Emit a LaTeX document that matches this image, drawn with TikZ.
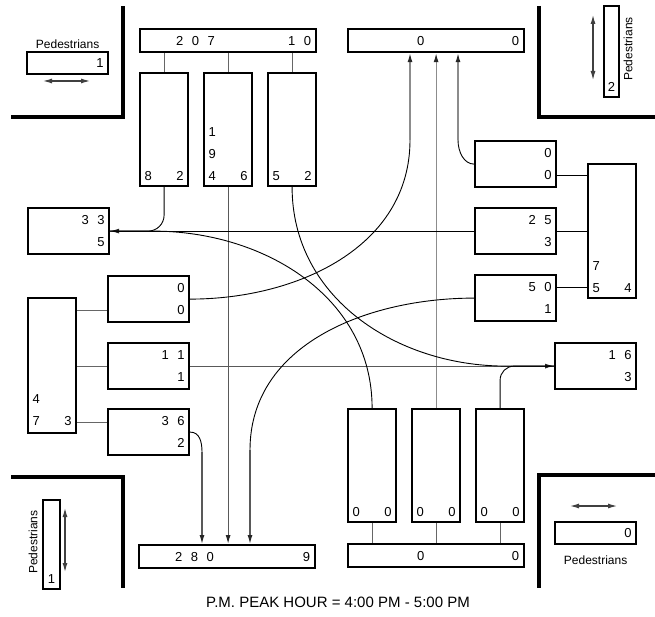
\documentclass[tikz,border=0pt]{standalone}
\usepackage{fontspec}
\setmainfont{Liberation Sans}
\usetikzlibrary{arrows.meta, positioning, calc}

\newcommand{\gp}{\hspace{8.5pt}}
\newcommand{\lanetext}[3]{\parbox[c][#1][b]{#2}{#3}}

\begin{document}
\begin{tikzpicture}[x=1pt, y=-1pt,
  box/.style={rectangle, draw, line width=2.2pt, inner sep=0pt, anchor=north west,
    font=\fontsize{13}{22}\selectfont},
  bar/.style={box, minimum width=176pt, minimum height=23pt, text width=166pt, align=left},
  move/.style={box, minimum width=81pt, minimum height=46pt, text width=72pt, align=right},
  lane/.style={box, minimum width=48pt, minimum height=113pt},
  pedbox/.style={box, minimum width=81pt, minimum height=22pt, text width=72pt, align=right},
  pedtxt/.style={font=\fontsize{12}{14}\selectfont, inner sep=2pt},
  wall/.style={line width=3.5pt},
  link/.style={line width=1pt, black!60},
  thru/.style={line width=1.2pt, black!65, -{Latex[length=9pt, width=5pt, color=black!85]}},
  turn/.style={line width=0.9pt},
  pedarr/.style={line width=1.1pt, black!75,
    {Latex[length=9pt, width=5pt]}-{Latex[length=9pt, width=5pt]}}
]
\useasboundingbox (0,0) rectangle (655,617);

% Corners
\draw[wall] (11,117) -- (123,117) -- (123,6);
\draw[wall] (539,6) -- (539,117) -- (655,117);
\draw[wall] (11,477) -- (123,477) -- (123,588);
\draw[wall] (655,475) -- (539,475) -- (539,588);

% North leg
\node[bar] (nApp) at (139,28) {\hspace*{31pt}2\gp0\gp7\hfill1\gp0};
\node[bar] (nExit) at (347,28) {\hspace*{64pt}0\hfill0};
\node[lane] (sbR) at (139,72) {\lanetext{102pt}{39pt}{8\hfill2}};
\node[lane] (sbT) at (203,72) {\lanetext{102pt}{39pt}{1\\9\\4\hfill6}};
\node[lane] (sbL) at (267,72) {\lanetext{102pt}{39pt}{5\hfill2}};

% South leg
\node[bar] (sExit) at (138,544) {\hspace*{31pt}2\gp8\gp0\hfill9};
\node[bar] (sApp) at (347,543) {\hspace*{64pt}0\hfill0};
\node[lane] (nbL) at (347,408) {\lanetext{102pt}{39pt}{0\hfill0}};
\node[lane] (nbT) at (411,408) {\lanetext{102pt}{39pt}{0\hfill0}};
\node[lane] (nbR) at (475,408) {\lanetext{102pt}{39pt}{0\hfill0}};

% West leg
\node[move] (wExit) at (27,207) {3\gp3\\5};
\node[lane, minimum height=135pt] (wApp) at (27,297) {\lanetext{120pt}{39pt}{4\\7\hfill3}};
\node[move] (ebL) at (107,275) {0\\0};
\node[move] (ebT) at (107,342) {1\gp1\\1};
\node[move] (ebR) at (107,408) {3\gp6\\2};

% East leg
\node[move] (eExit) at (554,342) {1\gp6\\3};
\node[lane, minimum height=134pt] (eApp) at (587,163) {\lanetext{123pt}{39pt}{7\\5\hfill4}};
\node[move] (wbR) at (474,140) {0\\0};
\node[move] (wbT) at (474,207) {2\gp5\\3};
\node[move] (wbL) at (474,274) {5\gp0\\1};

% Pedestrians
\node[pedbox] (pedNW) at (26,51) {1};
\node[pedtxt, above=0pt of pedNW] (pedNWt) {Pedestrians};
\node[pedbox] (pedSE) at (554,521) {0};
\node[pedtxt, below=8pt of pedSE] (pedSEt) {Pedestrians};
\node[box, minimum width=15pt, minimum height=91pt] (pedNE) at (603,5)
  {\lanetext{80pt}{9pt}{\centering 2}};
\node[pedtxt, rotate=90] (pedNEt) at (628,49) {Pedestrians};
\node[box, minimum width=17pt, minimum height=89pt] (pedSW) at (42,499)
  {\lanetext{78pt}{9pt}{\centering 1}};
\node[pedtxt, rotate=90] (pedSWt) at (33,542) {Pedestrians};

\coordinate (pNW1) at (43,81);
\coordinate (pNW2) at (90,81);
\coordinate (pNE1) at (593,15);
\coordinate (pNE2) at (593,80);
\coordinate (pSW1) at (65,508);
\coordinate (pSW2) at (65,572);
\coordinate (pSE1) at (570,506);
\coordinate (pSE2) at (617,506);
\draw[pedarr] (pNW1) -- (pNW2);
\draw[pedarr] (pNE1) -- (pNE2);
\draw[pedarr] (pSW1) -- (pSW2);
\draw[pedarr] (pSE1) -- (pSE2);

% Lane links
\draw[link] (sbR.north) -- (sbR.north |- nApp.south);
\draw[link] (sbT.north) -- (sbT.north |- nApp.south);
\draw[link] (sbL.north) -- (sbL.north |- nApp.south);
\draw[link] (nbL.south) -- (nbL.south |- sApp.north);
\draw[link] (nbT.south) -- (nbT.south |- sApp.north);
\draw[link] (nbR.south) -- (nbR.south |- sApp.north);
\coordinate (ebLk) at ($(ebL.west)+(0,11)$);
\coordinate (ebRk) at ($(ebR.west)+(0,-10)$);
\draw[link] (ebLk) -- (ebLk -| wApp.east);
\draw[link] (ebT.west) -- (ebT.west -| wApp.east);
\draw[link] (ebRk) -- (ebRk -| wApp.east);
\coordinate (wbRk) at ($(wbR.east)+(0,11)$);
\coordinate (wbLk) at ($(wbL.east)+(0,-11)$);
\draw[link, black] (wbRk) -- (wbRk -| eApp.west);
\draw[link, black] (wbT.east) -- (wbT.east -| eApp.west);
\draw[link, black] (wbLk) -- (wbLk -| eApp.west);

% Through movements
\draw[thru] (sbT.south) -- (sbT.south |- sExit.north);
\draw[thru, black!45] (nbT.north) -- (nbT.north |- nExit.south);
\draw[thru, black, line width=0.9pt] (wbT.west) -- (wExit.east);
\draw[thru] (ebT.east) -- (eExit.west);

% Right turns
\coordinate (wMerge) at ($(wExit.east)+(43,0)$);
\coordinate (eMerge) at ($(eExit.west)+(-48,0)$);
\draw[turn, rounded corners=16pt] (sbR.south) |- (wExit.east);
\draw[turn, rounded corners=14pt] (nbR.north) |- (eExit.west);
\coordinate (nA3) at (458,140);
\draw[turn] (wbR.west) .. controls +(-10,0) and +(0,12) .. (nA3);
\draw[thru, black!45] (nA3) -- (nA3 |- nExit.south);
\coordinate (sA3) at (202,452);
\draw[turn] (ebR.east) .. controls +(9,0) and +(0,-11) .. (sA3);
\draw[thru] (sA3) -- (sA3 |- sExit.north);

% Left turns
\draw[turn] (nbL.north) .. controls +(0,-111) and +(111,0) .. (wMerge) -- (wExit.east);
\draw[turn] (sbL.south) .. controls +(0,110) and +(-110,0) .. (eMerge) -- (eExit.west);
\coordinate (nA1) at (410,140);
\draw[turn] (ebL.east) .. controls +(107,0) and +(0,107) .. (nA1);
\draw[thru, black!45] (nA1) -- (nA1 |- nExit.south);
\coordinate (sA1) at (250,450);
\draw[turn] (wbL.west) .. controls +(-106,0) and +(0,-106) .. (sA1);
\draw[thru] (sA1) -- (sA1 |- sExit.north);

% Caption
\node[font=\fontsize{15}{18}\selectfont] (cap) at (338,602) {P.M. PEAK HOUR = 4:00 PM - 5:00 PM};
\end{tikzpicture}
\end{document}
